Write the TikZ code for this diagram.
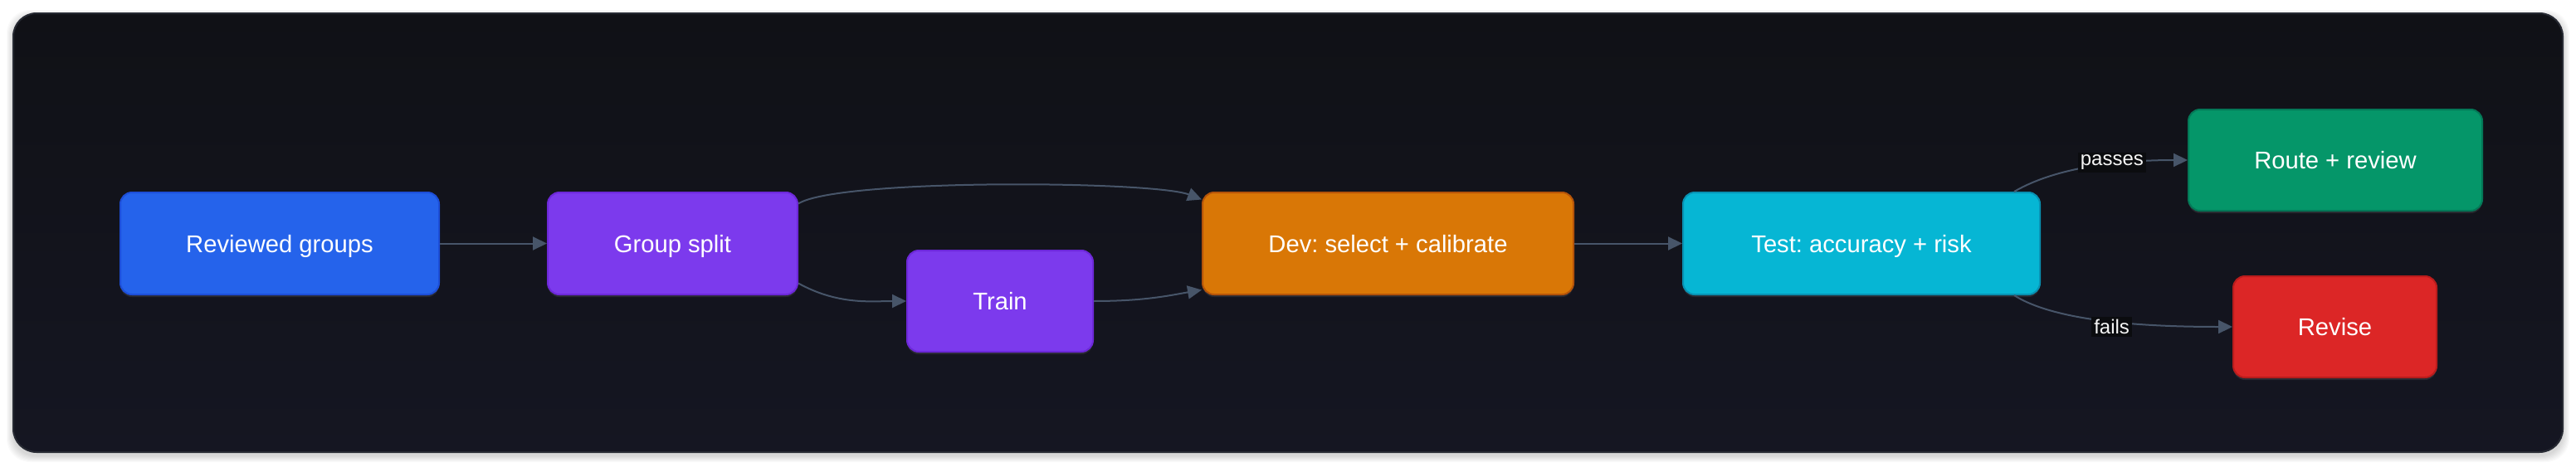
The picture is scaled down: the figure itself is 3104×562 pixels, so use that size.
\documentclass[tikz,border=0pt]{standalone}
\usepackage{fontspec}
\setmainfont{Liberation Sans}
\usetikzlibrary{arrows.meta,calc,shadows}
\frenchspacing
\definecolor{bgtop}{HTML}{101116}
\definecolor{bgbot}{HTML}{151622}
\definecolor{framec}{HTML}{272a33}
\definecolor{edgec}{HTML}{475569}
\definecolor{labbg}{HTML}{0b0c0f}
\definecolor{cblue}{HTML}{2563EB}\definecolor{cbluee}{HTML}{1D4ED8}
\definecolor{cviol}{HTML}{7C3AED}\definecolor{cviole}{HTML}{6D28D9}
\definecolor{camber}{HTML}{D97706}\definecolor{cambere}{HTML}{B45309}
\definecolor{ccyan}{HTML}{06B6D4}\definecolor{ccyane}{HTML}{0891B2}
\definecolor{cgreen}{HTML}{059669}\definecolor{cgreene}{HTML}{047857}
\definecolor{cred}{HTML}{DC2626}\definecolor{crede}{HTML}{B91C1C}
\begin{document}
\begin{tikzpicture}[x=0.5pt,y=-0.5pt,
  box/.style={rounded corners=7pt, text=white, font=\fontsize{14.6}{18}\selectfont,
    line width=1pt, inner sep=0pt, minimum height=61.5pt, text depth=0pt, text height=10.5pt,
    drop shadow={opacity=0.2, shadow xshift=0pt, shadow yshift=-1.5pt}},
  edge/.style={draw=edgec, line width=1pt, -{Triangle[length=8.5pt,width=8pt]}},
  lab/.style={fill=labbg, text=white!92!gray, font=\fontsize{12}{14}\selectfont, inner sep=1.5pt}]
\useasboundingbox (0,0) rectangle (3104,562);
\fill[white] (0,0) rectangle (3104,562);
\foreach \i in {1,...,8}{
  \fill[black, opacity=0.018, rounded corners=14pt] (16-\i,16-\i+4) rectangle (3088+\i,545+\i+4);
}
\shade[rounded corners=14pt, top color=bgtop, bottom color=bgbot, draw=framec, line width=1pt]
  (16,16) rectangle (3088,545);

\node[box, fill=cblue, draw=cbluee, minimum width=192pt] (rg) at (337,293.5) {Reviewed groups};
\node[box, fill=cviol, draw=cviole, minimum width=150.5pt] (gs) at (810.5,293.5) {Group split};
\node[box, fill=cviol, draw=cviole, minimum width=112pt, minimum height=61pt] (tr) at (1205,363) {Train};
\node[box, fill=camber, draw=cambere, minimum width=223.5pt] (dev) at (1672.5,293.5) {Dev: select + calibrate};
\node[box, fill=ccyan, draw=ccyane, minimum width=215pt] (test) at (2243,293.5) {Test: accuracy + risk};
\node[box, fill=cgreen, draw=cgreene, minimum width=177pt, minimum height=61pt] (route) at (2814,193) {Route + review};
\node[box, fill=cred, draw=crede, minimum width=122.5pt, minimum height=61pt] (rev) at (2813.5,394) {Revise};

\draw[edge] (rg) -- (gs);
\draw[edge] ($(gs.east)+(0,-48)$) .. controls (1010,215) and (1390,218) .. ($(dev.west)+(0,-53)$);
\draw[edge] ($(gs.east)+(0,48)$) .. controls (1010,368) and (1050,363) .. (tr.west);
\draw[edge] (tr.east) .. controls (1380,363) and (1410,356) .. ($(dev.west)+(0,56)$);
\draw[edge] (dev) -- (test);
\draw[edge] ($(test.north east)+(-32,0)$) .. controls (2480,200) and (2560,193) .. (route.west)
  node[lab, pos=0.6, yshift=0.8pt] {passes};
\draw[edge] ($(test.south east)+(-32,0)$) .. controls (2480,390) and (2600,394) .. (rev.west)
  node[lab, pos=0.5, yshift=-3pt] {fails};
\end{tikzpicture}
\end{document}
